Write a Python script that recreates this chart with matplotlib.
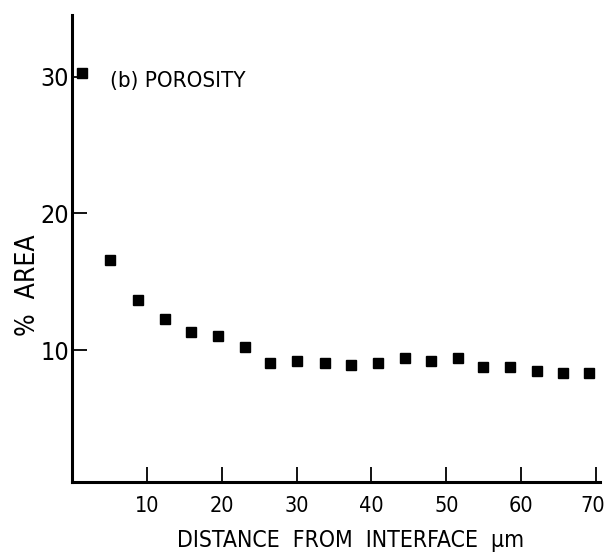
"""
Porosity (% area) against distance from the interface
"""
import matplotlib
matplotlib.use("Agg")
import matplotlib.pyplot as plt
from matplotlib.transforms import ScaledTranslation

plt.rcParams['font.family'] = ['DejaVu Sans']
plt.rcParams['font.stretch'] = 'condensed'

# Measured porosity
distance_um = [1.3, 5.1, 8.8, 12.4, 15.9, 19.5, 23.1, 26.5, 30.1, 33.8,
               37.3, 40.9, 44.5, 48.0, 51.6, 54.9, 58.5, 62.1, 65.6, 69.0]
area_pct = [30.3, 16.6, 13.7, 12.3, 11.3, 11.0, 10.2, 9.05, 9.2, 9.05,
            8.9, 9.05, 9.4, 9.2, 9.4, 8.8, 8.8, 8.5, 8.3, 8.3]

xticks = [10, 20, 30, 40, 50, 60, 70]
yticks = [10, 20, 30]

fig = plt.figure(figsize=(6.06, 5.59), dpi=100)
ax = fig.add_axes([0.1188, 0.1377, 0.871, 0.835])

ax.plot(distance_um, area_pct, 's', color='black', markersize=7.5)

ax.set_xlim(0, 70.5)
ax.set_ylim(0.35, 34.5)
ax.set_xticks(xticks)
ax.set_yticks(yticks)

for side in ['top', 'right']:
    ax.spines[side].set_visible(False)
for side in ['left', 'bottom']:
    ax.spines[side].set_linewidth(2.2)

ax.tick_params(axis='both', direction='in', length=11, width=1.3)
ax.tick_params(axis='x', labelsize=15.5, pad=10)
ax.tick_params(axis='y', labelsize=18, pad=2)

# keep the last x label inside the figure edge
last = ax.get_xticklabels()[-1]
last.set_transform(last.get_transform()
                   + ScaledTranslation(-3 / 100, 0, fig.dpi_scale_trans))

ax.text(5.1, 29.7, '(b) POROSITY', fontsize=16, va='center', ha='left')

fig.text(0.578, 0.012, 'DISTANCE  FROM  INTERFACE  \u03bcm', fontsize=16.5,
         ha='center', va='bottom')
fig.text(0.047, 0.49, '%  AREA', fontsize=19, rotation=90,
         ha='center', va='center')

fig.savefig('out.png', dpi=100, facecolor='white')
